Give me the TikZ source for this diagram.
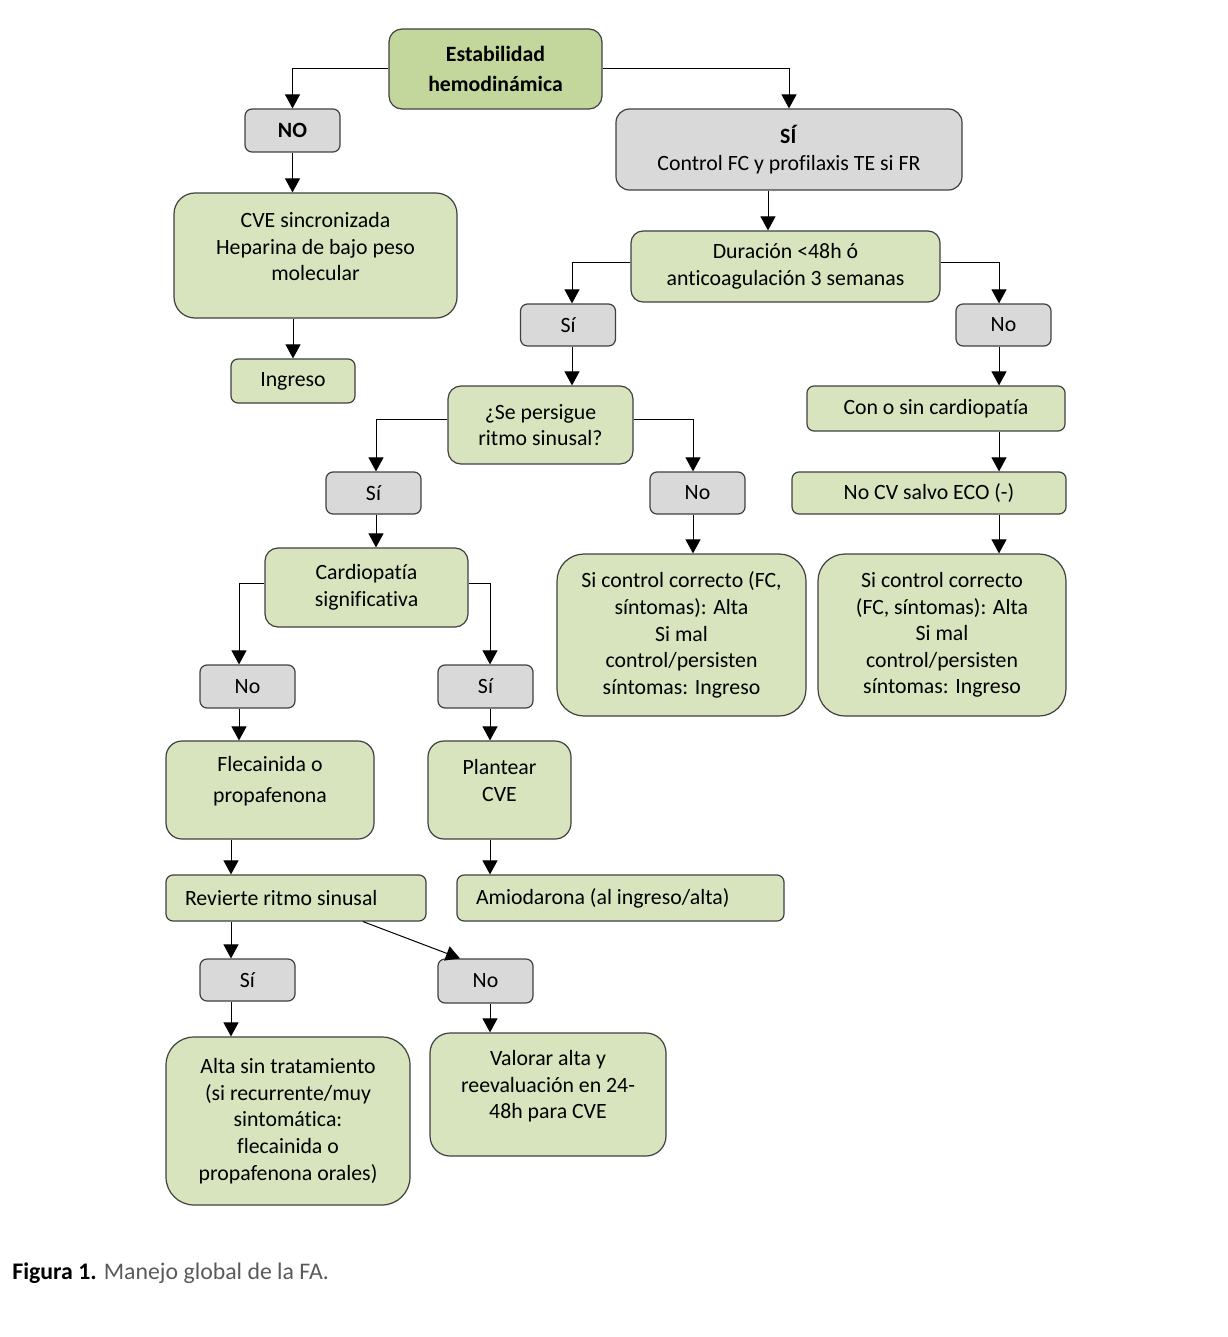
\documentclass[tikz,border=0pt]{standalone}
\usepackage{fontspec}
\setmainfont{Carlito}[Ligatures=CommonOff]
\usetikzlibrary{arrows.meta}
\definecolor{verde}{HTML}{D7E4BD}
\definecolor{verdeosc}{HTML}{C3D69B}
\definecolor{gris}{HTML}{D9D9D9}
\definecolor{borde}{HTML}{404040}
\definecolor{pie}{HTML}{5A5A5A}
\newcommand{\bajo}[1]{\rule[-#1]{0pt}{#1}}
\tikzset{
  caja/.style={draw=borde, line width=0.6pt, rounded corners=3.5pt, align=center, inner sep=2pt, font=\fontsize{10.9}{13.3}\selectfont},
  paso/.style={caja, fill=verde},
  raiz/.style={caja, fill=verdeosc, font=\fontsize{10.9}{13.3}\selectfont\bfseries},
  resp/.style={caja, fill=gris, minimum width=47.5pt, minimum height=21pt},
  flecha/.style={-{Triangle[width=7.5pt,length=7pt]}, line width=0.5pt},
}

\begin{document}
\begin{tikzpicture}[x=0.5pt,y=-0.5pt]
\useasboundingbox (0,0) rectangle (1227,1337);

\node[raiz, minimum width=106.5pt, minimum height=40pt, rounded corners=6.5pt] (estab) at (495.5,69) {Estabilidad\\[1.7pt]hemodinámica};
\node[resp, minimum height=21.5pt] (no1) at (292.5,130.5) {\textbf{NO}};
\node[resp, minimum width=173pt, minimum height=40.5pt, rounded corners=6.75pt] (si1) at (789,149.5) {\textbf{SÍ}\\Control FC y profilaxis TE si FR};
\node[paso, minimum width=141.5pt, minimum height=62.5pt, rounded corners=10.5pt] (cve) at (315.5,255.5) {CVE sincronizada\\Heparina de bajo peso\\molecular\bajo{9pt}};
\node[paso, minimum width=62pt, minimum height=22pt] (ingreso) at (293,381) {Ingreso};
\node[paso, minimum width=154.5pt, minimum height=35.5pt, rounded corners=6pt] (dur) at (785.5,266.5) {Duración <48h ó\\anticoagulación 3 semanas};
\node[resp] (si2) at (568,325) {Sí};
\node[resp] (no2) at (1003.5,325) {No};
\node[paso, minimum width=92.5pt, minimum height=39pt, rounded corners=6.5pt] (persig) at (540.5,425) {¿Se persigue\\ritmo sinusal?};
\node[paso, minimum width=129pt, minimum height=22.5pt] (consin) at (936,408.5) {Con o sin cardiopatía};
\node[resp] (si3) at (373.5,493) {Sí};
\node[resp] (no3) at (697.5,493) {No};
\node[paso, minimum width=137pt, minimum height=21pt] (nocv) at (929,493) {No CV salvo ECO (-)};
\node[paso, minimum width=101.5pt, minimum height=39.5pt, rounded corners=6.5pt] (cardio) at (366.5,587.5) {Cardiopatía\\significativa};
\node[paso, minimum width=124.5pt, minimum height=81pt, rounded corners=13.5pt] (ctrl1) at (681.5,635) {Si control correcto (FC,\\síntomas): Alta\\Si mal\\control/persisten\\síntomas: Ingreso};
\node[paso, minimum width=124pt, minimum height=81pt, rounded corners=13.5pt] (ctrl2) at (942,635) {Si control correcto\\(FC, síntomas): Alta\\Si mal\\control/persisten\\síntomas: Ingreso};
\node[resp, minimum height=21.5pt] (no4) at (247.5,686.5) {No};
\node[resp, minimum height=21.5pt] (si4) at (485.5,686.5) {Sí};
\node[paso, minimum width=104pt, minimum height=49pt, rounded corners=8pt] (fleca) at (270,790) {Flecainida o\\[2.2pt]propafenona\bajo{10.5pt}};
\node[paso, minimum width=71.5pt, minimum height=49pt, rounded corners=8pt] (plantear) at (499.5,790) {Plantear\\CVE\bajo{9.5pt}};
\node[paso, text width=111pt, inner xsep=9.5pt, minimum height=23pt, align=flush left] (revierte) at (296,898) {Revierte ritmo sinusal};
\node[paso, text width=144.5pt, inner xsep=9.5pt, minimum height=23pt, align=flush left] (amio) at (620.5,898) {Amiodarona (al ingreso/alta)};
\node[resp] (si5) at (247.5,980) {Sí};
\node[resp, minimum height=22pt] (no5) at (485.5,981) {No};
\node[paso, minimum width=122pt, minimum height=84pt, rounded corners=14pt] (alta) at (288,1121) {Alta sin tratamiento\\(si recurrente/muy\\sintomática:\\flecainida o\\propafenona orales)};
\node[paso, minimum width=118pt, minimum height=61.5pt, rounded corners=10pt] (valorar) at (548,1094.5) {Valorar alta y\\reevaluación en 24-\\48h para CVE\bajo{10pt}};
\node[anchor=west, inner sep=0pt, font=\fontsize{11.9}{14}\selectfont] (pie) at (12,1273) {\textbf{Figura 1.} \textcolor{pie}{Manejo global de la FA.}};

\coordinate (c231) at (231,0);
\coordinate (c239) at (239,0);
\coordinate (c363) at (363,0);
\coordinate (c376) at (376,0);
\coordinate (c460) at (460,0);
\coordinate (c490) at (490,0);
\coordinate (c572) at (572,0);
\coordinate (c693) at (693,0);
\coordinate (c768) at (768,0);
\coordinate (c999) at (999,0);

\draw[flecha] (estab.west) -| (no1.north);
\draw[flecha] (estab.east) -| (si1.north);
\draw[flecha] (no1.south) -- (no1.south |- cve.north);
\draw[flecha] (ingreso.north |- cve.south) -- (ingreso.north);
\draw[flecha] (c768 |- si1.south) -- (c768 |- dur.north);
\draw[flecha] ([yshift=2pt]dur.west) -| (c572 |- si2.north);
\draw[flecha] ([yshift=2pt]dur.east) -| (c999 |- no2.north);
\draw[flecha] (c572 |- si2.south) -- (c572 |- persig.north);
\draw[flecha] (c999 |- no2.south) -- (c999 |- consin.north);
\draw[flecha] ([yshift=3pt]persig.west) -| (c376 |- si3.north);
\draw[flecha] ([yshift=3pt]persig.east) -| (c693 |- no3.north);
\draw[flecha] (c999 |- consin.south) -- (c999 |- nocv.north);
\draw[flecha] (c376 |- si3.south) -- (c376 |- cardio.north);
\draw[flecha] (c693 |- no3.south) -- (c693 |- ctrl1.north);
\draw[flecha] (c999 |- nocv.south) -- (c999 |- ctrl2.north);
\draw[flecha] ([yshift=2pt]cardio.west) -| (c239 |- no4.north);
\draw[flecha] ([yshift=2pt]cardio.east) -| (c490 |- si4.north);
\draw[flecha] (c239 |- no4.south) -- (c239 |- fleca.north);
\draw[flecha] (c490 |- si4.south) -- (c490 |- plantear.north);
\draw[flecha] (c231 |- fleca.south) -- (c231 |- revierte.north);
\draw[flecha] (c490 |- plantear.south) -- (c490 |- amio.north);
\draw[flecha] (c231 |- revierte.south) -- (c231 |- si5.north);
\draw[flecha] (c363 |- revierte.south) -- (c460 |- no5.north);
\draw[flecha] (c231 |- si5.south) -- (c231 |- alta.north);
\draw[flecha] (c490 |- no5.south) -- (c490 |- valorar.north);
\end{tikzpicture}
\end{document}
